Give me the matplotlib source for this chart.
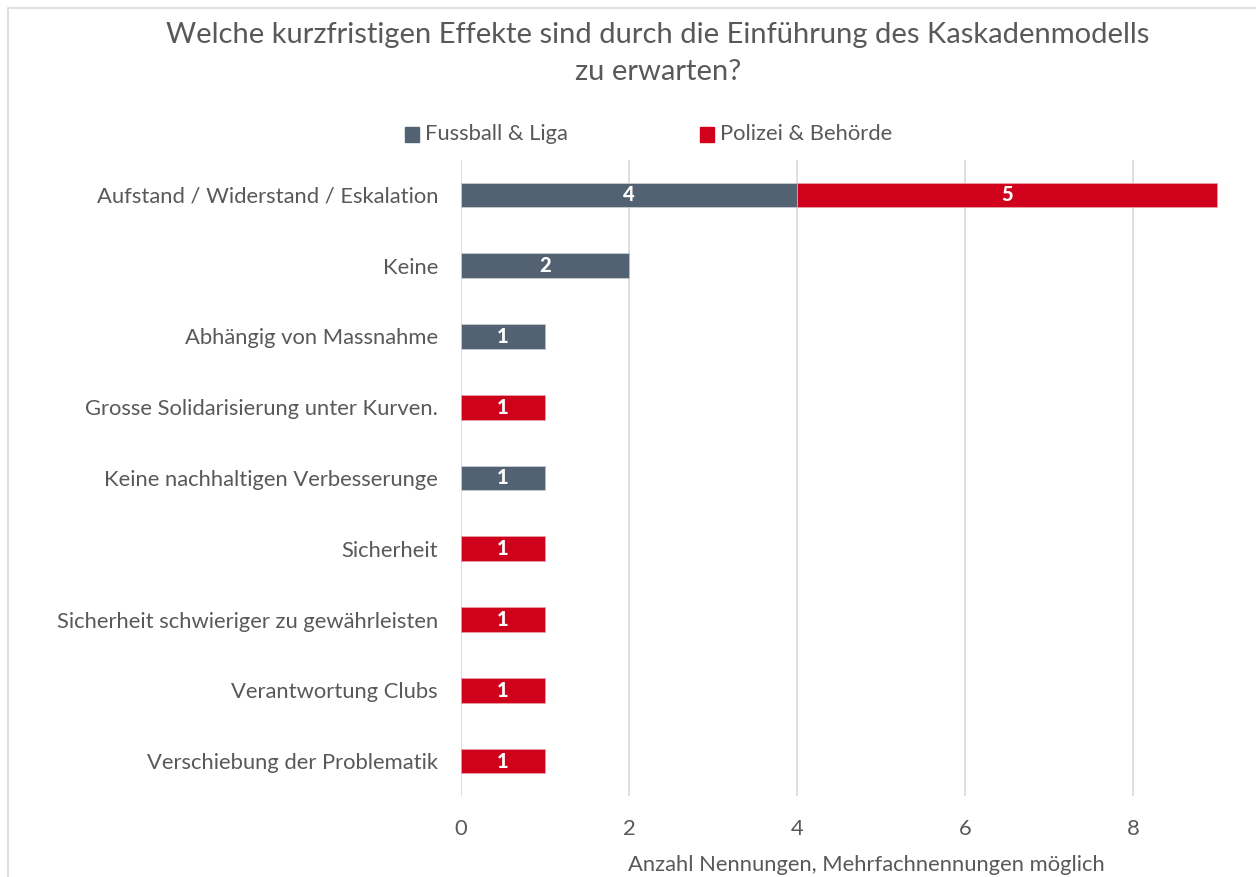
import matplotlib
matplotlib.use("Agg")
import matplotlib.pyplot as plt
from matplotlib.patches import Rectangle

categories = [
    "Aufstand / Widerstand / Eskalation",
    "Keine",
    "Abhängig von Massnahme",
    "Grosse Solidarisierung unter Kurven.",
    "Keine nachhaltigen Verbesserunge",
    "Sicherheit",
    "Sicherheit schwieriger zu gewährleisten",
    "Verantwortung Clubs",
    "Verschiebung der Problematik",
]
fussball = [4, 2, 1, 0, 1, 0, 0, 0, 0]
polizei = [5, 0, 0, 1, 0, 1, 1, 1, 1]
series_names = ["Fussball & Liga", "Polizei & Behörde"]
xticks = [0, 2, 4, 6, 8]

title_lines = ["Welche kurzfristigen Effekte sind durch die Einführung des Kaskadenmodells",
               "zu erwarten?"]
xlabel = "Anzahl Nennungen, Mehrfachnennungen möglich"

C_F = "#526273"
C_P = "#D0021B"
TXT = "#595959"
FS = 15.8

plt.rcParams['font.family'] = ['Lato', 'DejaVu Sans']

W, H = 1256, 877
fig = plt.figure(figsize=(W / 100, H / 100), dpi=100)

# chart border
fig.patches.append(Rectangle((8 / W, -0.1), 1.2, 1 - 8 / H + 0.1, transform=fig.transFigure,
                             fill=False, edgecolor="#D9D9D9", linewidth=1.2))

left, right = 461, 1256
top, bottom = 159.6, 796.4
ax = fig.add_axes([left / W, 1 - bottom / H, (right - left) / W, (bottom - top) / H])
ax.set_xlim(0, (right - left) / 84.0)
n = len(categories)
ax.set_ylim(n - 0.5, -0.5)

y = list(range(n))
bh = 0.35
b1 = ax.barh(y, fussball, height=bh, color=C_F, edgecolor="#C8CDD3", linewidth=0.6, zorder=3)
b2 = ax.barh(y, polizei, height=bh, left=fussball, color=C_P, edgecolor="#E8A0A8", linewidth=0.6, zorder=3)

for bars, vals in ((b1, fussball), (b2, polizei)):
    for rect, v in zip(bars, vals):
        if v > 0:
            ax.text(rect.get_x() + rect.get_width() / 2, rect.get_y() + rect.get_height() / 2,
                    str(v), ha="center", va="center", color="white", fontsize=14.5,
                    fontweight="black", zorder=4)

ax.set_xticks(xticks)
ax.set_xticklabels([str(t) for t in xticks])
ax.set_yticks(y)
ax.set_yticklabels(categories)
ax.tick_params(axis="both", length=0, colors=TXT, labelsize=FS)
ax.tick_params(axis="x", pad=16)
ax.tick_params(axis="y", pad=16.5)
ax.grid(axis="x", color="#D9D9D9", linewidth=1.2, zorder=0)
for s in ax.spines.values():
    s.set_visible(False)
ax.set_xlabel(xlabel, color=TXT, fontsize=FS)
ax.xaxis.set_label_coords((866.5 - left) / (right - left), -(865 - bottom) / (bottom - top))
ax.xaxis.label.set_va("center")

fig.text(658 / W, 1 - 43 / H, title_lines[0], ha="center", va="baseline", color=TXT, fontsize=21)
fig.text(658 / W, 1 - 80 / H, title_lines[1], ha="center", va="baseline", color=TXT, fontsize=21)

# legend
for xs, name, col in ((405, series_names[0], C_F), (700, series_names[1], C_P)):
    fig.patches.append(Rectangle((xs / W, 1 - 142 / H), 14 / W, 15 / H, transform=fig.transFigure,
                                 color=col))
    fig.text((xs + 20) / W, 1 - 134.5 / H, name, ha="left", va="center", color=TXT, fontsize=FS)

fig.savefig("out.png", dpi=100)
